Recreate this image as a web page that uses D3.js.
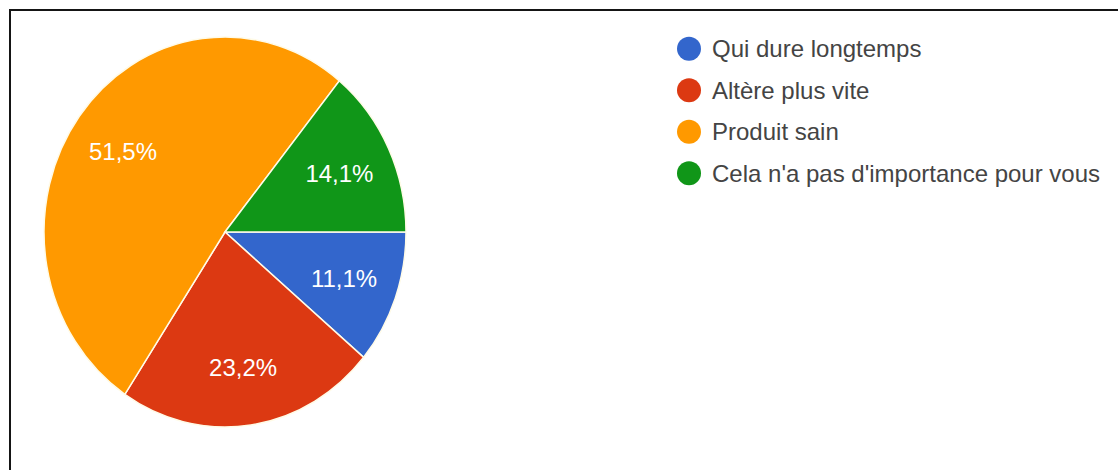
<!DOCTYPE html>
<html>
<head>
<meta charset="utf-8">
<script src="https://cdn.jsdelivr.net/npm/d3@7"></script>
<style>
  html, body { margin: 0; padding: 0; background: #fff; }
  svg { display: block; }
</style>
</head>
<body>
<svg id="chart" width="1118" height="470"></svg>
<script>
// Réponses à la question (pourcentages)
const categories = [
  "Qui dure longtemps",
  "Altère plus vite",
  "Produit sain",
  "Cela n'a pas d'importance pour vous"
];
const values = [11.1, 23.2, 51.5, 14.1];
const colors = ["#3366cc", "#dc3912", "#ff9900", "#109618"];

const W = 1118, H = 470;
const svg = d3.select("#chart");

// cadre
svg.append("rect")
  .attr("x", 10).attr("y", 10)
  .attr("width", W + 20).attr("height", H + 20)
  .attr("fill", "none")
  .attr("stroke", "#151515")
  .attr("stroke-width", 2);

const cx = 225, cy = 232, rx = 181, ry = 195;
const data = categories.map((c, i) => ({ name: c, value: values[i], color: colors[i] }));

const pie = d3.pie()
  .sort(null)
  .value(d => d.value)
  .startAngle(Math.PI / 2)
  .endAngle(Math.PI / 2 + 2 * Math.PI);

const arcs = pie(data);
const arc = d3.arc().innerRadius(0).outerRadius(rx);

const g = svg.append("g")
  .attr("transform", `translate(${cx},${cy}) scale(1,${ry / rx})`);

g.selectAll("path")
  .data(arcs)
  .join("path")
  .attr("d", arc)
  .attr("fill", d => d.data.color)
  .attr("stroke", "#fffbe8")
  .attr("stroke-width", 1.5);

// étiquettes de pourcentage
const fmt = v => d3.format(".1f")(v).replace(".", ",") + "%";
const labelFrac = 0.7;
svg.append("g").selectAll("text")
  .data(arcs)
  .join("text")
  .attr("x", d => cx + labelFrac * rx * Math.sin((d.startAngle + d.endAngle) / 2))
  .attr("y", d => cy - labelFrac * ry * Math.cos((d.startAngle + d.endAngle) / 2))
  .attr("text-anchor", "middle")
  .attr("dominant-baseline", "central")
  .attr("fill", "#ffffff")
  .attr("font-family", "Liberation Sans, Arial, sans-serif")
  .attr("font-size", 24)
  .text(d => fmt(d.data.value));

// légende
const legendY = d3.scaleBand()
  .domain(categories)
  .range([28, 194]);

const lg = svg.append("g").selectAll("g")
  .data(data)
  .join("g")
  .attr("transform", d => `translate(689,${legendY(d.name) + legendY.bandwidth() / 2})`);

lg.append("circle")
  .attr("r", 12)
  .attr("fill", d => d.color);

lg.append("text")
  .attr("x", 23)
  .attr("dominant-baseline", "central")
  .attr("fill", "#444")
  .attr("font-family", "Liberation Sans, Arial, sans-serif")
  .attr("font-size", 24)
  .text(d => d.name);
</script>
</body>
</html>
